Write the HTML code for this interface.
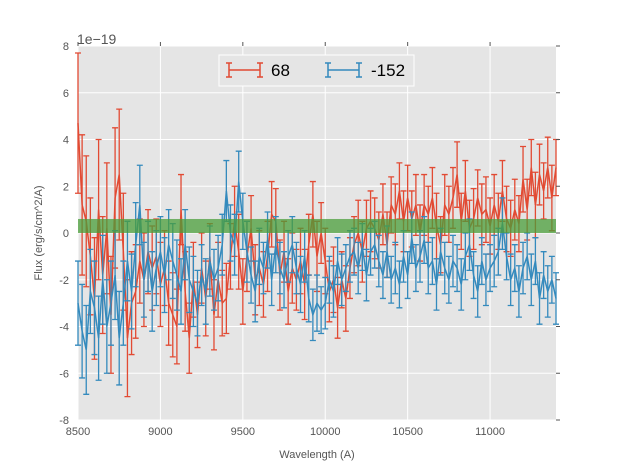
<!DOCTYPE html>
<html><head><meta charset="utf-8"><style>
body{margin:0;background:#fff;font-family:"Liberation Sans",sans-serif}
svg{display:block}
</style></head><body>
<svg id="chart" width="617" height="467" xmlns="http://www.w3.org/2000/svg">
<rect x="78" y="46" width="478" height="374" fill="#e5e5e5"/>
<g id="grid"></g>
<g id="series"></g>
<g id="axes"></g>
<text x="77" y="44" font-size="14" fill="#555">1e−19</text>
<text x="317" y="458" font-size="11" fill="#555" text-anchor="middle">Wavelength (A)</text>
<text transform="translate(42,233) rotate(-90)" font-size="11" fill="#555" text-anchor="middle">Flux (erg/s/cm^2/A)</text>
<g>
<rect x="219" y="55" width="195" height="31" fill="#e5e5e5" stroke="#fff" stroke-width="1"/>
<g stroke="#E24A33" stroke-width="1.5" fill="none">
<path d="M229 70H260M229 63V77M260 63V77M226 63H232M226 77H232M257 63H263M257 77H263"/>
</g>
<text x="271" y="76" font-size="17" fill="#000">68</text>
<g stroke="#348ABD" stroke-width="1.5" fill="none">
<path d="M328 70H359M328 63V77M359 63V77M325 63H331M325 77H331M356 63H362M356 77H362"/>
</g>
<text x="371" y="76" font-size="17" fill="#000">-152</text>
</g>
</svg>
<script>
const xStart = 8500, xStep = 25;
const xTicks = [8500, 9000, 9500, 10000, 10500, 11000];
const yTicks = [-8, -6, -4, -2, 0, 2, 4, 6, 8];
const redVals = [4.7,1.2,0.5,-1.0,-2.8,1.0,-1.8,0.2,-3.5,1.5,2.5,-0.8,
-4.5,-3.0,-2.5,-1.2,-2.0,-0.8,-1.5,-1.0,-2.2,-1.5,-3.0,-3.5,
-4.0,1.0,-2.5,-4.5,-2.0,-3.5,-1.5,-2.8,-1.0,-3.5,-2.0,-3.0,
-2.8,-1.0,0.5,-0.8,-2.5,-1.0,0.2,-2.0,-1.5,-2.2,-1.0,0.8,
0.5,-1.8,-0.8,-2.5,-1.5,-2.0,-1.2,-2.2,-0.5,0.8,-1.0,0.0,
-1.2,-2.5,-2.0,-3.2,-2.0,-2.8,-1.5,-0.5,0.0,-0.8,0.2,0.5,
0.2,-0.3,0.8,-0.5,1.2,0.8,1.8,0.5,1.5,0.6,1.2,0.0,
1.2,0.8,1.5,0.3,-0.5,1.2,0.8,1.5,2.5,0.5,1.8,0.2,
0.6,1.5,0.8,1.0,0.3,1.2,0.5,1.8,0.6,0.2,1.0,0.4,
2.3,1.0,2.8,1.2,2.5,1.8,2.8,1.5,2.8];
const redErr = [3.0,3.0,2.8,2.5,2.6,3.0,2.5,2.8,2.5,3.0,2.8,2.5,
2.5,2.2,2.0,1.8,2.0,1.8,1.8,1.6,1.8,1.6,1.8,1.8,
1.6,1.5,1.7,1.5,1.6,1.4,1.5,1.6,1.4,1.5,1.6,1.4,
1.5,1.4,1.5,1.6,1.4,1.5,1.4,1.5,1.6,1.4,1.5,1.4,
1.4,1.5,1.3,1.4,1.5,1.3,1.4,1.5,1.3,1.4,1.5,1.3,
1.4,1.3,1.4,1.3,1.2,1.4,1.3,1.2,1.4,1.3,1.2,1.3,
1.3,1.2,1.3,1.4,1.2,1.3,1.2,1.3,1.4,1.2,1.3,1.2,
1.3,1.2,1.3,1.4,1.2,1.3,1.2,1.3,1.4,1.2,1.3,1.2,
1.3,1.2,1.3,1.4,1.2,1.3,1.2,1.3,1.4,1.2,1.3,1.2,
1.4,1.3,1.2,1.4,1.3,1.2,1.3,1.4,1.2];
const blueVals = [-3.0,-4.2,-5.0,-2.5,-3.2,-4.5,-2.0,-4.0,-3.0,-1.8,-4.5,-3.0,
-1.2,-2.5,-0.5,1.2,-2.0,-1.0,-2.5,-1.5,-0.8,-1.8,-0.5,-1.2,
-1.8,-2.5,-0.5,-2.0,-2.5,-3.0,-1.8,-2.5,-1.2,-2.0,-1.5,-0.5,
1.8,0.0,-0.5,2.2,0.5,-0.8,-1.8,-2.5,-1.0,-1.5,-0.3,-2.0,
-0.5,-1.5,-2.0,-1.0,-0.5,-1.5,-2.2,-1.0,-2.8,-3.5,-3.0,-3.3,
-3.0,-2.0,-2.5,-1.2,-2.0,-1.5,-1.0,-0.8,-1.5,-0.6,-1.8,-0.8,
-0.5,-1.2,-1.8,-0.8,-2.0,-1.5,-2.2,-1.0,-1.8,-0.2,-1.5,-1.0,
-0.3,-1.5,-1.2,-2.2,-0.8,-1.5,-2.0,-1.2,-1.5,-2.2,-1.0,-0.5,
-1.8,-2.5,-1.2,-2.0,-1.5,-1.2,-0.8,0.4,-1.0,-2.0,-1.5,-2.5,
-1.5,-1.0,-2.0,-1.2,-2.8,-1.8,-2.5,-2.0,-2.8];
const blueErr = [1.8,2.0,1.9,1.8,2.0,1.8,1.9,2.0,1.8,1.9,2.0,1.8,
1.7,1.6,1.8,1.7,1.6,1.5,1.7,1.6,1.5,1.6,1.5,1.6,
1.5,1.4,1.5,1.4,1.5,1.4,1.3,1.4,1.5,1.3,1.4,1.3,
1.3,1.2,1.3,1.3,1.2,1.3,1.2,1.3,1.2,1.1,1.2,1.1,
1.2,1.1,1.2,1.1,1.2,1.1,1.2,1.1,1.0,1.1,1.2,1.0,
1.1,1.0,1.1,1.0,1.1,1.0,1.1,1.0,1.1,1.0,1.1,1.0,
1.0,1.1,1.0,1.1,1.0,1.1,1.0,1.1,1.0,1.1,1.0,1.1,
1.0,1.1,1.0,1.1,1.0,1.1,1.0,1.1,1.0,1.1,1.0,1.1,
1.0,1.1,1.0,1.1,1.0,1.1,1.0,1.1,1.0,1.1,1.0,1.1,
1.1,1.0,1.1,1.0,1.1,1.0,1.1,1.0,1.1];
const bandLow = 0, bandHigh = 0.6;

const NS = 'http://www.w3.org/2000/svg';
const X0 = 78, X1 = 556, Y0 = 420, Y1 = 46;
const xMin = 8500, xMax = 11400, yMin = -8, yMax = 8;
function sx(v){ return X0 + (v - xMin) / (xMax - xMin) * (X1 - X0); }
function sy(v){ return Y0 - (v - yMin) / (yMax - yMin) * (Y0 - Y1); }
function mk(tag, attrs, parent){ const e = document.createElementNS(NS, tag); for (const k in attrs) e.setAttribute(k, attrs[k]); parent.appendChild(e); return e; }

const grid = document.getElementById('grid');
const axes = document.getElementById('axes');
xTicks.forEach(t => {
  const l = mk('line', {x1: sx(t), x2: sx(t), y1: Y1, y2: Y0, stroke: '#fff', 'stroke-width': 1}, grid);
  
  
  const tk = mk('text', {x: sx(t), y: Y0 + 15, 'font-size': 11, fill: '#555', 'text-anchor': 'middle'}, axes);
  tk.textContent = t;
  
  
  const m = mk('line', {x1: sx(t), x2: sx(t), y1: Y1, y2: Y1 - 4, stroke: '#555'}, axes);
  
  
});
yTicks.forEach(t => {
  const l = mk('line', {x1: X0, x2: X1, y1: sy(t), y2: sy(t), stroke: '#fff', 'stroke-width': 1}, grid);
  
  
  const tk = mk('text', {x: X0 - 9, y: sy(t) + 4, 'font-size': 11, fill: '#555', 'text-anchor': 'end'}, axes);
  tk.textContent = t;
  
  
  const m = mk('line', {x1: X1, x2: X1 + 4, y1: sy(t), y2: sy(t), stroke: '#555'}, axes);
  
  
});

const series = document.getElementById('series');
function drawSeries(vals, errs, color, name){
  const g = mk('g', {stroke: color, 'stroke-width': 1.3, fill: 'none'}, series);
  
  
  let d = '', pts = '';
  vals.forEach((v, i) => {
    const x = sx(xStart + xStep * i);
    const a = sy(v - errs[i]), b = sy(v + errs[i]);
    d += `M${x} ${a}V${b}M${x-3} ${a}H${x+3}M${x-3} ${b}H${x+3}`;
    pts += `${x},${sy(v)} `;
  });
  const eb = mk('path', {d: d}, g);
  
  
  const ln = mk('polyline', {points: pts, 'stroke-width': 1.5}, g);
  
  
}
drawSeries(redVals, redErr, '#E24A33', 'series-68');
drawSeries(blueVals, blueErr, '#348ABD', 'series-152');
const band = mk('rect', {x: X0, width: X1 - X0, y: sy(bandHigh), height: sy(bandLow) - sy(bandHigh), fill: '#4a9e3a', 'fill-opacity': 0.75}, series);


</script>
</body></html>
